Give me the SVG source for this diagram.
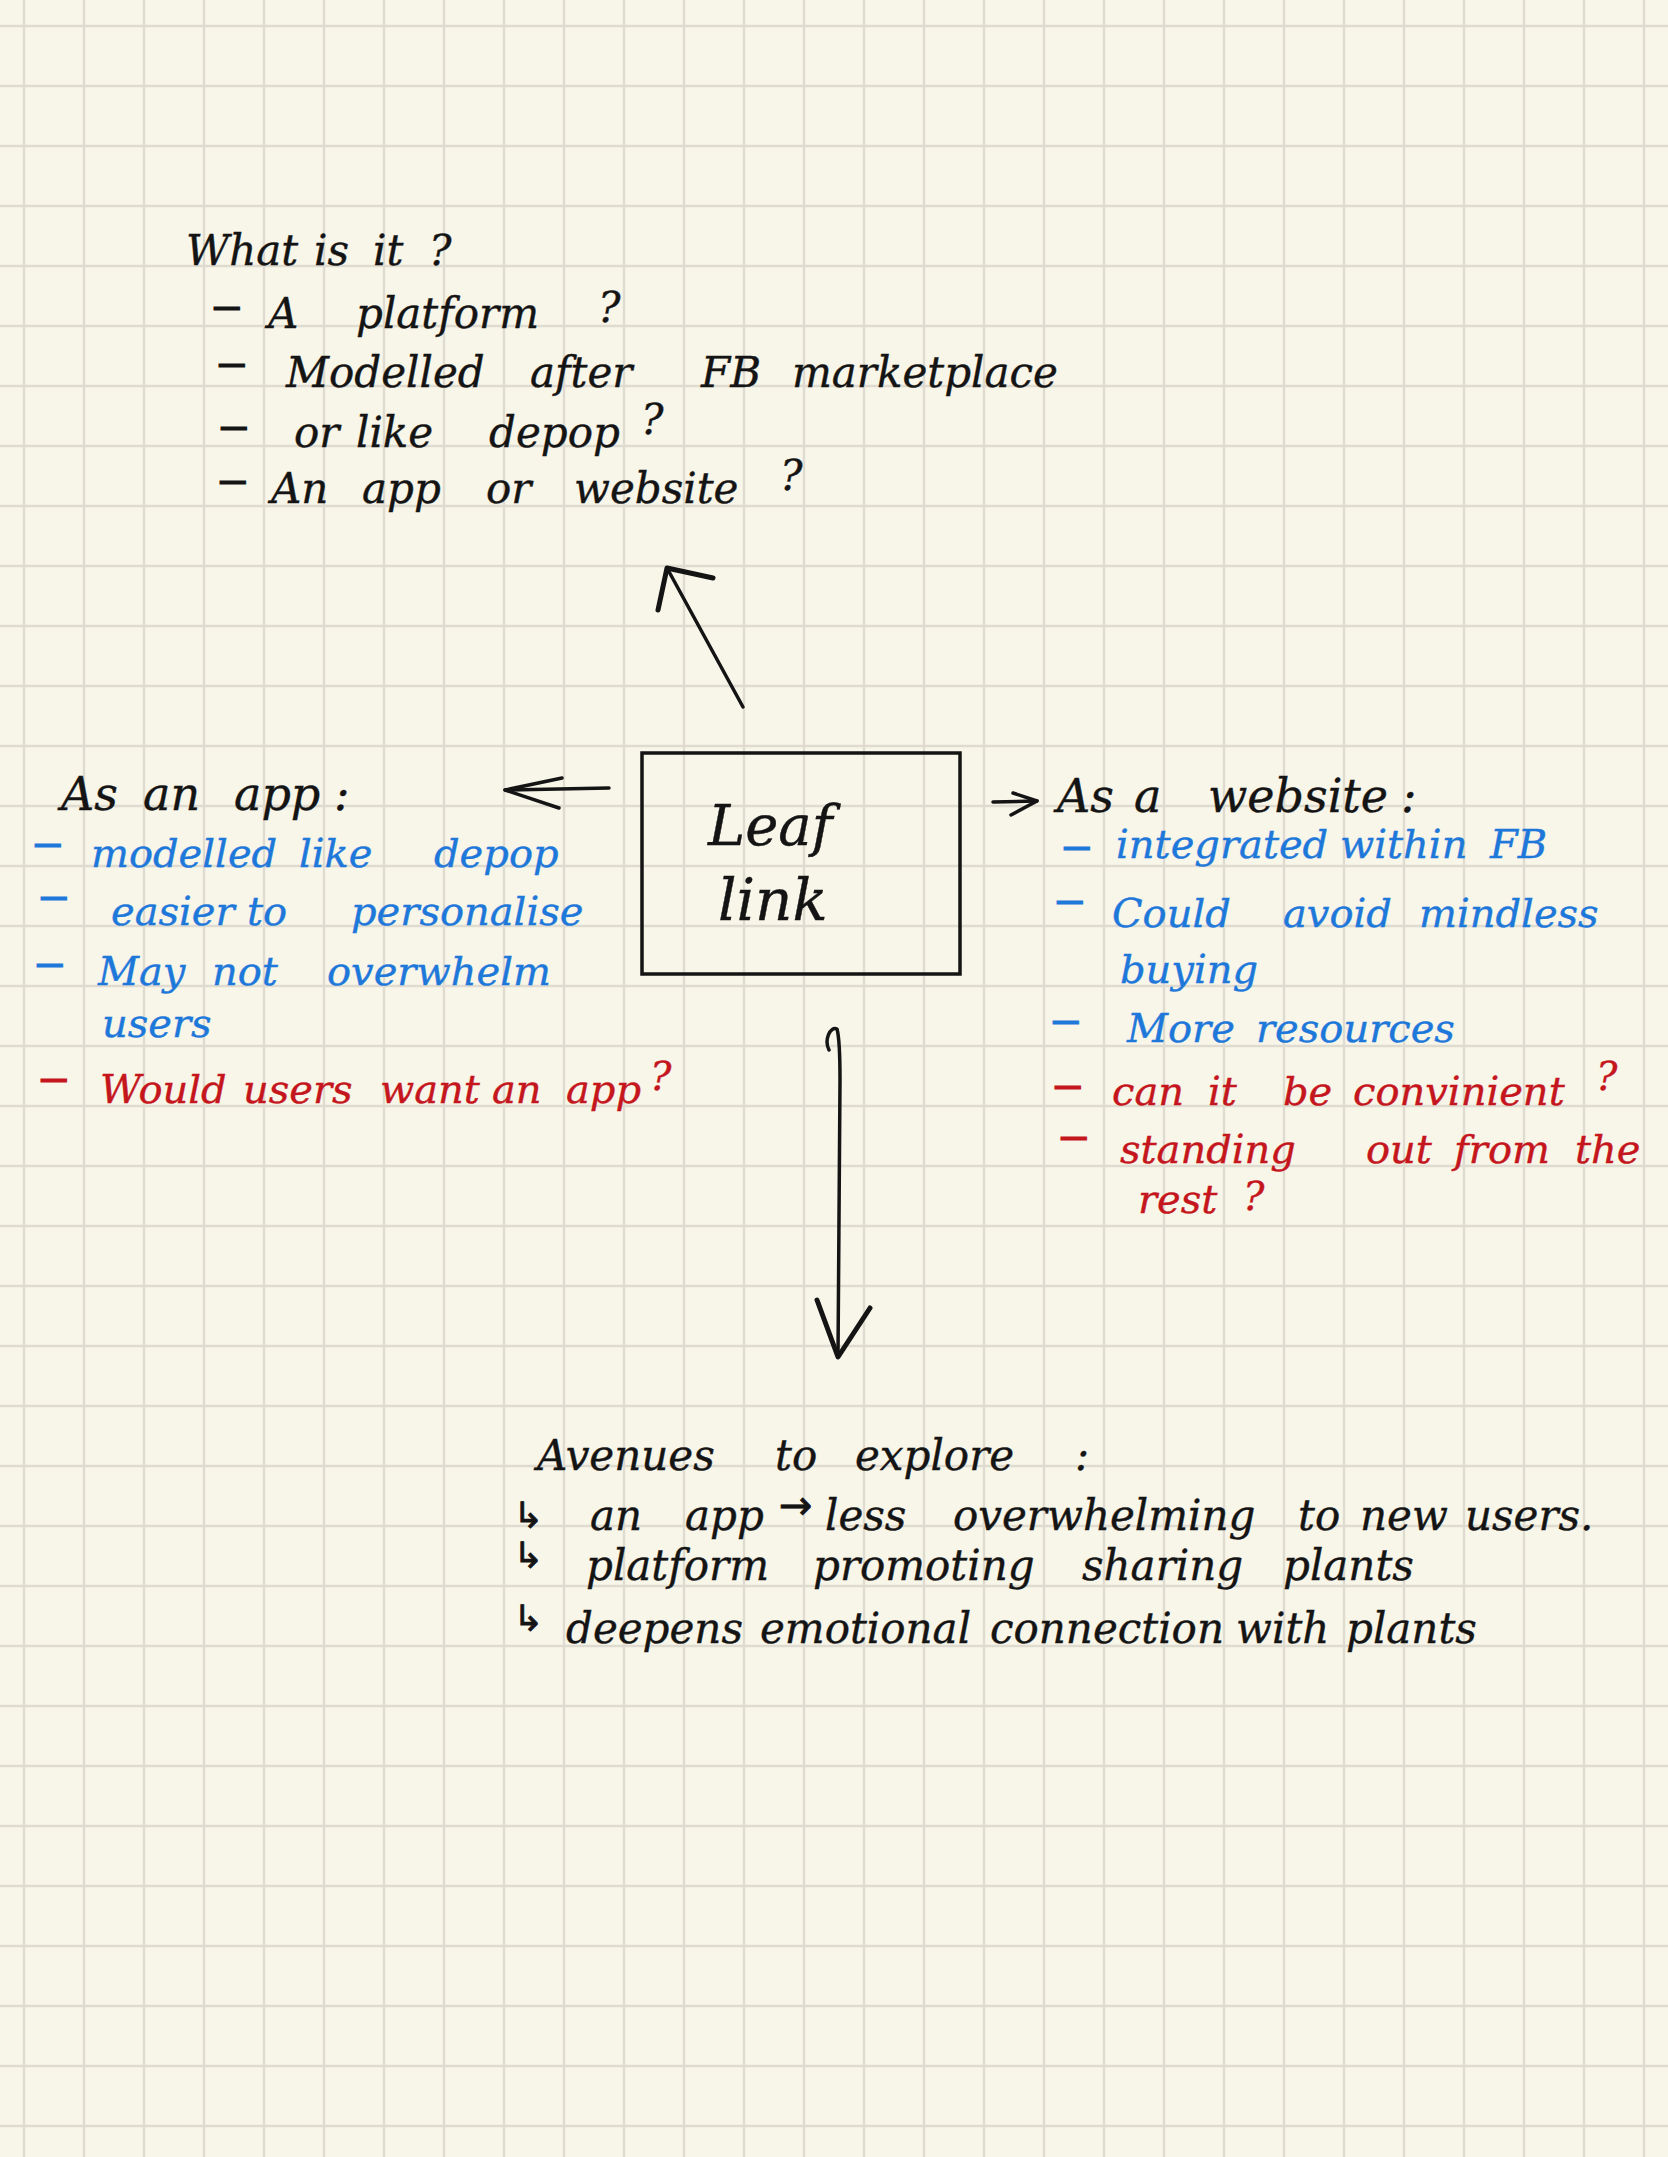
<svg xmlns="http://www.w3.org/2000/svg" width="1668" height="2157" viewBox="0 0 1668 2157">
<defs>
<pattern id="grid" width="60" height="60" patternUnits="userSpaceOnUse" x="-6" y="-4">
<path d="M30,0 V60 M0,30 H60" fill="none" stroke="#dfdbd0" stroke-width="2.4"/>
</pattern>
<style>
.t{font-family:"DejaVu Serif","Liberation Serif",serif;font-style:italic;stroke-width:0.4;}
.k{fill:#141414;stroke:#141414;}
.b{fill:#1e78da;stroke:#1e78da;}
.r{fill:#c4161c;stroke:#c4161c;}
.s40{font-size:40px;}
.s42{font-size:42px;}
.s46{font-size:46px;}
.d{font-family:"Liberation Sans",Arial,sans-serif;font-style:normal;font-size:46px;stroke-width:1;}
.sym{font-family:"DejaVu Sans",sans-serif;font-style:normal;font-size:36px;stroke-width:0.8;}
.arw{font-family:"DejaVu Sans",sans-serif;font-style:normal;font-size:40px;stroke-width:0.8;}
.ln{fill:none;stroke:#141414;stroke-width:3.5;stroke-linecap:round;stroke-linejoin:round;}
.hd{fill:none;stroke:#141414;stroke-width:5;stroke-linecap:round;stroke-linejoin:round;}
</style>
</defs>
<rect x="0" y="0" width="1668" height="2157" fill="#f8f5e9"/>
<rect x="0" y="0" width="1668" height="2157" fill="url(#grid)"/>

<g id="node-what-is-it">
<text class="t k s42" y="265"><tspan x="186">What</tspan><tspan x="314">is</tspan><tspan x="373">it</tspan><tspan x="429">?</tspan></text>
<text class="t k s42" y="328"><tspan class="d" x="214" y="320">–</tspan><tspan x="268" y="328">A</tspan><tspan x="356">platform</tspan><tspan x="598" y="322">?</tspan></text>
<text class="t k s42" y="387"><tspan class="d" x="219" y="377">–</tspan><tspan x="286" y="387">Modelled</tspan><tspan x="530">after</tspan><tspan x="701">FB</tspan><tspan x="792">marketplace</tspan></text>
<text class="t k s42" y="447"><tspan class="d" x="221" y="440">–</tspan><tspan x="294" y="447">or</tspan><tspan x="356">like</tspan><tspan x="489">depop</tspan><tspan x="641" y="434">?</tspan></text>
<text class="t k s42" y="503"><tspan class="d" x="220" y="494">–</tspan><tspan x="271" y="503">An</tspan><tspan x="362">app</tspan><tspan x="486">or</tspan><tspan x="574">website</tspan><tspan x="780" y="490">?</tspan></text>
</g>

<g id="node-leaf-link">
<rect x="642" y="753" width="318" height="221" fill="none" stroke="#141414" stroke-width="3.5"/>
<text class="t k" style="font-size:56px" x="708" y="845">Leaf</text>
<text class="t k" style="font-size:58px" x="718" y="920">link</text>
</g>

<g id="node-as-an-app">
<text class="t k s46" y="810"><tspan x="61">As</tspan><tspan x="143">an</tspan><tspan x="234">app</tspan><tspan x="334">:</tspan></text>
<text class="t b s40" y="867"><tspan class="d" x="35" y="857">–</tspan><tspan x="91" y="867">modelled</tspan><tspan x="299">like</tspan><tspan x="434">depop</tspan></text>
<text class="t b s40" y="925"><tspan class="d" x="41" y="910">–</tspan><tspan x="111" y="925">easier</tspan><tspan x="247">to</tspan><tspan x="351">personalise</tspan></text>
<text class="t b s40" y="985"><tspan class="d" x="37" y="977">–</tspan><tspan x="98" y="985">May</tspan><tspan x="212">not</tspan><tspan x="327">overwhelm</tspan></text>
<text class="t b s40" x="102" y="1037">users</text>
<text class="t r s40" y="1103"><tspan class="d" x="41" y="1092">–</tspan><tspan x="100" y="1103">Would</tspan><tspan x="243">users</tspan><tspan x="380">want</tspan><tspan x="492">an</tspan><tspan x="566">app</tspan><tspan x="650" y="1090">?</tspan></text>
</g>

<g id="node-as-a-website">
<text class="t k s46" y="812"><tspan x="1057">As</tspan><tspan x="1134">a</tspan><tspan x="1208">website</tspan><tspan x="1401">:</tspan></text>
<text class="t b s40" y="858"><tspan class="d" x="1064" y="860">–</tspan><tspan x="1116" y="858">integrated</tspan><tspan x="1340">within</tspan><tspan x="1490">FB</tspan></text>
<text class="t b s40" y="927"><tspan class="d" x="1057" y="914">–</tspan><tspan x="1112" y="927">Could</tspan><tspan x="1283">avoid</tspan><tspan x="1419">mindless</tspan></text>
<text class="t b s40" x="1120" y="983">buying</text>
<text class="t b s40" y="1042"><tspan class="d" x="1053" y="1034">–</tspan><tspan x="1127" y="1042">More</tspan><tspan x="1256">resources</tspan></text>
<text class="t r s40" y="1105"><tspan class="d" x="1055" y="1099">–</tspan><tspan x="1112" y="1105">can</tspan><tspan x="1208">it</tspan><tspan x="1283">be</tspan><tspan x="1353">convinient</tspan><tspan x="1596" y="1090">?</tspan></text>
<text class="t r s40" y="1163"><tspan class="d" x="1061" y="1150">–</tspan><tspan x="1120" y="1163">standing</tspan><tspan x="1366">out</tspan><tspan x="1454">from</tspan><tspan x="1575">the</tspan></text>
<text class="t r s40" y="1213"><tspan x="1138">rest</tspan><tspan x="1243" y="1210">?</tspan></text>
</g>

<g id="node-avenues">
<text class="t k s42" y="1470"><tspan x="537">Avenues</tspan><tspan x="775">to</tspan><tspan x="855">explore</tspan><tspan x="1075">:</tspan></text>
<text class="t k s42" y="1530"><tspan class="sym" x="513" y="1528">↳</tspan><tspan x="590" y="1530">an</tspan><tspan x="685">app</tspan><tspan class="arw" x="779" y="1519">→</tspan><tspan x="825" y="1530">less</tspan><tspan x="953">overwhelming</tspan><tspan x="1298">to</tspan><tspan x="1360">new</tspan><tspan x="1465">users.</tspan></text>
<text class="t k s42" y="1580"><tspan class="sym" x="513" y="1568">↳</tspan><tspan x="586" y="1580">platform</tspan><tspan x="813">promoting</tspan><tspan x="1082">sharing</tspan><tspan x="1283">plants</tspan></text>
<text class="t k s42" y="1643"><tspan class="sym" x="513" y="1631">↳</tspan><tspan x="566" y="1643">deepens</tspan><tspan x="760">emotional</tspan><tspan x="990">connection</tspan><tspan x="1236">with</tspan><tspan x="1346">plants</tspan></text>
</g>

<g id="connectors">
<path class="ln" d="M743,707 L667,568"/>
<path class="hd" d="M658,610 L667,568 L713,578"/>
<path class="ln" d="M609,788 L505,790"/>
<path class="ln" d="M562,778 L505,790 L559,808"/>
<path class="ln" d="M993,802 L1037,801"/>
<path class="ln" d="M1013,793 L1037,801 L1011,815"/>
<path class="ln" d="M829,1050 C824,1040 830,1026 837,1029 C840,1040 840,1060 840,1080 L838,1357"/>
<path class="hd" d="M817,1300 L838,1357 L870,1308"/>
</g>
</svg>
